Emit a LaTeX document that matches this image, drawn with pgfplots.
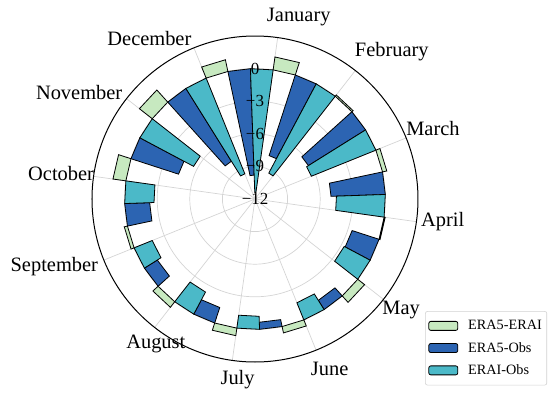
\documentclass[border=0pt]{standalone}
\usepackage{pgfplots}
\pgfplotsset{compat=1.18}
\usepackage{pgfplotstable}
\usepgfplotslibrary{polar}
\usepackage{fontspec}
\setmainfont{Liberation Serif}
\definecolor{cG}{HTML}{C7E9C0}
\definecolor{cB}{HTML}{2C64B2}
\definecolor{cC}{HTML}{4BB9C8}
\definecolor{gridgray}{HTML}{D4D4D4}
% m: month index (0 = January); g: ERA5-ERAI, b: ERA5-Obs, c: ERAI-Obs
\pgfplotstableread{
m g b c
0 1.1 -9.8 -11.4
1 1.2 -7.8 -9.3
2 0.15 -6.2 -6.4
3 0.4 -5.0 -4.5
4 0.1 -2.6 -2.7
5 0.8 -1.0 -1.7
6 0.6 -0.65 -1.2
7 0.7 -1.5 -2.3
8 0.65 -1.4 -1.8
9 0.3 -2.3 -2.7
10 1.2 -4.6 -5.6
11 1.5 -7.9 -9.5
}\datatable
\newcommand\polarbar[4]{%
  \pgfmathsetmacro\rr{12+#3}%
  \edef\tmp{\noexpand\addplot[draw=black, line width=0.8bp, fill=#4, forget plot] coordinates {(#1,12) (#1,\rr) (#2,\rr) (#2,12)} -- cycle;}%
  \tmp}
\begin{document}
\begin{tikzpicture}
\useasboundingbox (-255bp,-198bp) rectangle (295bp,199bp);
\begin{polaraxis}[
  at={(0,0)}, anchor=center,
  scale only axis, width=326bp, height=326bp,
  xmin=0, xmax=360, ymin=0, ymax=15,
  xtick={22,52,82,112,142,172,202,232,262,292,322,352},
  xticklabels={},
  ytick={3,6,9,12}, yticklabels={},
  grid=major,
  major grid style={draw=gridgray, line width=0.7bp},
  major tick length=0pt,
  separate axis lines,
  x axis line style={black, line width=1bp},
  y axis line style={draw=none},
  clip=false,
  legend image code/.code={\draw[#1] (0bp,-4.5bp) rectangle (29bp,4.5bp);},
  legend style={at={(1.396,0.156)}, anchor=north east,
    draw=gray!35, rounded corners=2bp, line width=0.6bp,
    font=\fontsize{14.3}{16}\selectfont,
    inner xsep=3bp, inner ysep=7bp, row sep=7bp,
    /tikz/every odd column/.append style={column sep=8bp}},
  legend cell align=left,
]
\pgfplotsforeachungrouped \i in {0,1,...,11}{%
  \pgfplotstablegetelem{\i}{g}\of\datatable \let\vg\pgfplotsretval
  \pgfplotstablegetelem{\i}{b}\of\datatable \let\vb\pgfplotsretval
  \pgfplotstablegetelem{\i}{c}\of\datatable \let\vc\pgfplotsretval
  \pgfmathsetmacro\aA{mod(472-30*\i,360)}%
  \pgfmathsetmacro\aB{\aA-10}%
  \pgfmathsetmacro\aC{\aA-20}%
  \pgfmathsetmacro\aD{\aA-30}%
  \polarbar{\aA}{\aB}{\vg}{cG}%
  \polarbar{\aB}{\aC}{\vb}{cB}%
  \polarbar{\aC}{\aD}{\vc}{cC}%
}
\addlegendimage{draw=black, fill=cG, line width=0.8bp}
\addlegendentry{ERA5-ERAI}
\addlegendimage{draw=black, fill=cB, line width=0.8bp}
\addlegendentry{ERA5-Obs}
\addlegendimage{draw=black, fill=cC, line width=0.8bp}
\addlegendentry{ERAI-Obs}
% radial tick labels
\begin{scope}[every node/.style={font=\fontsize{17}{17}\selectfont, inner sep=0pt}]
\node at (axis cs:90,0) {−12};
\node at (axis cs:90,3) {−9};
\node at (axis cs:90,6) {−6};
\node at (axis cs:90,9) {−3};
\node at (axis cs:90,12) {0};
\end{scope}
% month labels
\begin{scope}[every node/.style={font=\fontsize{20.5}{22}\selectfont, inner sep=0pt}]
\node at (axis cs:76.5,17.25) {January};
\node at (axis cs:47.1,18.5) {February};
\node at (axis cs:21.5,17.6) {March};
\node at (axis cs:353,17.4) {April};
\node at (axis cs:322.7,16.9) {May};
\node at (axis cs:293.7,17.1) {June};
\node at (axis cs:264.5,16.7) {July};
\node at (axis cs:235.7,16.2) {August};
\node at (axis cs:198.7,19.5) {September};
\node at (axis cs:172.4,18.0) {October};
\node at (axis cs:148.9,18.9) {November};
\node at (axis cs:123.3,17.7) {December};
\end{scope}
\end{polaraxis}
\end{tikzpicture}
\end{document}
